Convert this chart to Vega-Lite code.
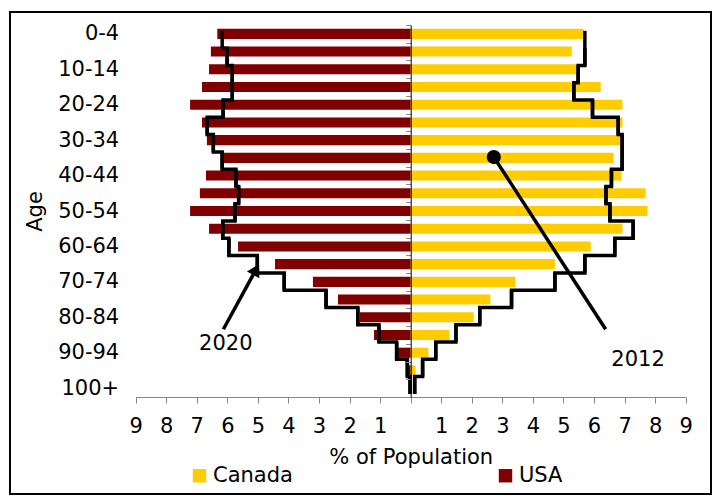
{
  "$schema": "https://vega.github.io/schema/vega-lite/v6.json",
  "width": 701,
  "height": 482,
  "autosize": "none",
  "padding": {"left": 10, "top": 12, "right": 3, "bottom": 4},
  "background": "white",
  "config": {
    "font": "DejaVu Sans",
    "view": {"stroke": "#000000", "strokeWidth": 2},
    "axis": {
      "labelFont": "DejaVu Sans",
      "titleFont": "DejaVu Sans",
      "labelFontSize": 21,
      "titleFontSize": 21,
      "titleFontWeight": "normal",
      "labelColor": "#000000",
      "titleColor": "#000000",
      "labelOverlap": false,
      "labelFlush": false,
      "grid": false
    },
    "legend": {
      "labelFont": "DejaVu Sans",
      "labelFontSize": 21,
      "labelColor": "#000000"
    }
  },
  "datasets": {
    "pop2012": [
      {"country": "USA", "age": "0-4", "pct": -6.33},
      {"country": "USA", "age": "5-9", "pct": -6.54},
      {"country": "USA", "age": "10-14", "pct": -6.60},
      {"country": "USA", "age": "15-19", "pct": -6.83},
      {"country": "USA", "age": "20-24", "pct": -7.22},
      {"country": "USA", "age": "25-29", "pct": -6.83},
      {"country": "USA", "age": "30-34", "pct": -6.67},
      {"country": "USA", "age": "35-39", "pct": -6.15},
      {"country": "USA", "age": "40-44", "pct": -6.70},
      {"country": "USA", "age": "45-49", "pct": -6.90},
      {"country": "USA", "age": "50-54", "pct": -7.22},
      {"country": "USA", "age": "55-59", "pct": -6.60},
      {"country": "USA", "age": "60-64", "pct": -5.65},
      {"country": "USA", "age": "65-69", "pct": -4.44},
      {"country": "USA", "age": "70-74", "pct": -3.20},
      {"country": "USA", "age": "75-79", "pct": -2.38},
      {"country": "USA", "age": "80-84", "pct": -1.66},
      {"country": "USA", "age": "85-89", "pct": -1.20},
      {"country": "USA", "age": "90-94", "pct": -0.45},
      {"country": "USA", "age": "95-99", "pct": -0.12},
      {"country": "USA", "age": "100+", "pct": -0.04},
      {"country": "Canada", "age": "0-4", "pct": 5.66},
      {"country": "Canada", "age": "5-9", "pct": 5.27},
      {"country": "Canada", "age": "10-14", "pct": 5.41},
      {"country": "Canada", "age": "15-19", "pct": 6.22},
      {"country": "Canada", "age": "20-24", "pct": 6.93},
      {"country": "Canada", "age": "25-29", "pct": 6.93},
      {"country": "Canada", "age": "30-34", "pct": 6.85},
      {"country": "Canada", "age": "35-39", "pct": 6.64},
      {"country": "Canada", "age": "40-44", "pct": 6.90},
      {"country": "Canada", "age": "45-49", "pct": 7.69},
      {"country": "Canada", "age": "50-54", "pct": 7.75},
      {"country": "Canada", "age": "55-59", "pct": 6.93},
      {"country": "Canada", "age": "60-64", "pct": 5.89},
      {"country": "Canada", "age": "65-69", "pct": 4.72},
      {"country": "Canada", "age": "70-74", "pct": 3.43},
      {"country": "Canada", "age": "75-79", "pct": 2.61},
      {"country": "Canada", "age": "80-84", "pct": 2.06},
      {"country": "Canada", "age": "85-89", "pct": 1.27},
      {"country": "Canada", "age": "90-94", "pct": 0.58},
      {"country": "Canada", "age": "95-99", "pct": 0.16},
      {"country": "Canada", "age": "100+", "pct": 0.02}
    ],
    "pop2020": [
      {"country": "USA", "age": "0-4", "lo": 0, "hi": 5, "pct": -6.17},
      {"country": "USA", "age": "5-9", "lo": 5, "hi": 10, "pct": -6.01},
      {"country": "USA", "age": "10-14", "lo": 10, "hi": 15, "pct": -5.84},
      {"country": "USA", "age": "15-19", "lo": 15, "hi": 20, "pct": -5.84},
      {"country": "USA", "age": "20-24", "lo": 20, "hi": 25, "pct": -6.14},
      {"country": "USA", "age": "25-29", "lo": 25, "hi": 30, "pct": -6.66},
      {"country": "USA", "age": "30-34", "lo": 30, "hi": 35, "pct": -6.46},
      {"country": "USA", "age": "35-39", "lo": 35, "hi": 40, "pct": -6.17},
      {"country": "USA", "age": "40-44", "lo": 40, "hi": 45, "pct": -5.72},
      {"country": "USA", "age": "45-49", "lo": 45, "hi": 50, "pct": -5.63},
      {"country": "USA", "age": "50-54", "lo": 50, "hi": 55, "pct": -5.75},
      {"country": "USA", "age": "55-59", "lo": 55, "hi": 60, "pct": -6.15},
      {"country": "USA", "age": "60-64", "lo": 60, "hi": 65, "pct": -5.95},
      {"country": "USA", "age": "65-69", "lo": 65, "hi": 70, "pct": -5.02},
      {"country": "USA", "age": "70-74", "lo": 70, "hi": 75, "pct": -4.14},
      {"country": "USA", "age": "75-79", "lo": 75, "hi": 80, "pct": -2.77},
      {"country": "USA", "age": "80-84", "lo": 80, "hi": 85, "pct": -1.73},
      {"country": "USA", "age": "85-89", "lo": 85, "hi": 90, "pct": -1.04},
      {"country": "USA", "age": "90-94", "lo": 90, "hi": 95, "pct": -0.46},
      {"country": "USA", "age": "95-99", "lo": 95, "hi": 100, "pct": -0.11},
      {"country": "USA", "age": "100+", "lo": 100, "hi": 105, "pct": -0.02},
      {"country": "Canada", "age": "0-4", "lo": 0, "hi": 5, "pct": 5.70},
      {"country": "Canada", "age": "5-9", "lo": 5, "hi": 10, "pct": 5.70},
      {"country": "Canada", "age": "10-14", "lo": 10, "hi": 15, "pct": 5.48},
      {"country": "Canada", "age": "15-19", "lo": 15, "hi": 20, "pct": 5.34},
      {"country": "Canada", "age": "20-24", "lo": 20, "hi": 25, "pct": 5.95},
      {"country": "Canada", "age": "25-29", "lo": 25, "hi": 30, "pct": 6.79},
      {"country": "Canada", "age": "30-34", "lo": 30, "hi": 35, "pct": 6.92},
      {"country": "Canada", "age": "35-39", "lo": 35, "hi": 40, "pct": 6.92},
      {"country": "Canada", "age": "40-44", "lo": 40, "hi": 45, "pct": 6.57},
      {"country": "Canada", "age": "45-49", "lo": 45, "hi": 50, "pct": 6.39},
      {"country": "Canada", "age": "50-54", "lo": 50, "hi": 55, "pct": 6.52},
      {"country": "Canada", "age": "55-59", "lo": 55, "hi": 60, "pct": 7.28},
      {"country": "Canada", "age": "60-64", "lo": 60, "hi": 65, "pct": 6.68},
      {"country": "Canada", "age": "65-69", "lo": 65, "hi": 70, "pct": 5.70},
      {"country": "Canada", "age": "70-74", "lo": 70, "hi": 75, "pct": 4.72},
      {"country": "Canada", "age": "75-79", "lo": 75, "hi": 80, "pct": 3.30},
      {"country": "Canada", "age": "80-84", "lo": 80, "hi": 85, "pct": 2.26},
      {"country": "Canada", "age": "85-89", "lo": 85, "hi": 90, "pct": 1.48},
      {"country": "Canada", "age": "90-94", "lo": 90, "hi": 95, "pct": 0.82},
      {"country": "Canada", "age": "95-99", "lo": 95, "hi": 100, "pct": 0.39},
      {"country": "Canada", "age": "100+", "lo": 100, "hi": 105, "pct": 0.13}
    ]
  },
  "layer": [
    {
      "data": {"name": "pop2012"},
      "mark": {"type": "bar", "height": {"band": 0.57}},
      "encoding": {
        "y": {
          "field": "age",
          "type": "ordinal",
          "scale": {
            "domain": ["0-4", "5-9", "10-14", "15-19", "20-24", "25-29", "30-34", "35-39", "40-44", "45-49", "50-54", "55-59", "60-64", "65-69", "70-74", "75-79", "80-84", "85-89", "90-94", "95-99", "100+"],
            "range": [13, 385],
            "paddingInner": 0,
            "paddingOuter": 0
          },
          "axis": {
            "orient": "left",
            "offset": -400.7,
            "tickBand": "extent",
            "domainColor": "#000000",
            "tickColor": "#868686",
            "tickSize": 5,
            "labelPadding": 287,
            "labelOverlap": false,
            "labelExpr": "indexof(['5-9','15-19','25-29','35-39','45-49','55-59','65-69','75-79','85-89','95-99'], datum.label) < 0 ? datum.label : ''",
            "title": "Age",
            "titleAngle": 270,
            "titleBaseline": "middle",
            "titleX": -375.7,
            "zindex": 1
          }
        },
        "x": {
          "field": "pct",
          "type": "quantitative",
          "stack": null,
          "scale": {"domain": [-9, 9], "range": [125.7, 675.7], "nice": false, "zero": false},
          "axis": {
            "orient": "bottom",
            "values": [-9, -8, -7, -6, -5, -4, -3, -2, -1, 0, 1, 2, 3, 4, 5, 6, 7, 8, 9],
            "tickCount": 40,
            "labelExpr": "datum.value === 0 ? '' : format(abs(datum.value), 'd')",
            "offset": -97,
            "domainColor": "#868686",
            "tickColor": "#868686",
            "tickSize": 6,
            "labelPadding": 12,
            "labelFlush": false,
            "labelOverlap": false,
            "title": "% of Population",
            "titlePadding": 10,
            "zindex": 1
          }
        },
        "color": {
          "field": "country",
          "type": "nominal",
          "scale": {"domain": ["Canada", "USA"], "range": ["#FFCC00", "#800000"]},
          "legend": {
            "title": null,
            "orient": "none",
            "legendX": 179,
            "legendY": 453,
            "direction": "horizontal",
            "symbolType": "square",
            "symbolSize": 180,
            "symbolStrokeWidth": 0,
            "symbolOpacity": 1,
            "labelOffset": 3,
            "columnPadding": 202
          }
        }
      }
    },
    {
      "layer": [
        {
          "data": {"name": "pop2020"},
          "mark": {"type": "rule", "color": "#000000", "strokeWidth": 3.5},
          "encoding": {
            "x": {"field": "pct", "type": "quantitative"},
            "y": {
              "field": "lo",
              "type": "quantitative",
              "scale": {"domain": [-1.7, 105.9], "range": [13, 385], "nice": false, "zero": false},
              "axis": null
            },
            "y2": {"field": "hi"}
          }
        },
        {
          "data": {"name": "pop2020"},
          "mark": {"type": "line", "interpolate": "step-after", "color": "#000000", "strokeWidth": 3.5},
          "encoding": {
            "x": {"field": "pct", "type": "quantitative"},
            "y": {"field": "hi", "type": "quantitative", "axis": null},
            "detail": {"field": "country"},
            "order": {"field": "hi"}
          }
        },
        {
          "data": {"values": [{}]},
          "mark": {"type": "rule", "color": "#000000", "strokeWidth": 3.5},
          "encoding": {
            "x": {"datum": 2.72, "type": "quantitative"},
            "x2": {"datum": 6.38},
            "y": {"datum": 36.5, "type": "quantitative", "axis": null},
            "y2": {"datum": 86.3}
          }
        },
        {
          "data": {"values": [{}]},
          "mark": {"type": "circle", "color": "#000000", "opacity": 1, "size": 200},
          "encoding": {
            "x": {"datum": 2.72, "type": "quantitative"},
            "y": {"datum": 36.5, "type": "quantitative", "axis": null}
          }
        },
        {
          "data": {"values": [{}]},
          "mark": {"type": "text", "text": "2012", "fontSize": 21, "color": "#000000", "align": "center", "baseline": "middle"},
          "encoding": {
            "x": {"datum": 7.44, "type": "quantitative"},
            "y": {"datum": 95.2, "type": "quantitative", "axis": null}
          }
        },
        {
          "data": {"values": [{}]},
          "mark": {"type": "rule", "color": "#000000", "strokeWidth": 3.5},
          "encoding": {
            "x": {"datum": -6.13, "type": "quantitative"},
            "x2": {"datum": -5.06},
            "y": {"datum": 86.3, "type": "quantitative", "axis": null},
            "y2": {"datum": 69.0}
          }
        },
        {
          "data": {"values": [{}]},
          "mark": {"type": "point", "shape": "triangle-up", "filled": true, "color": "#000000", "opacity": 1, "size": 200, "angle": 28.7},
          "encoding": {
            "x": {"datum": -5.06, "type": "quantitative"},
            "y": {"datum": 69.0, "type": "quantitative", "axis": null}
          }
        },
        {
          "data": {"values": [{}]},
          "mark": {"type": "text", "text": "2020", "fontSize": 21, "color": "#000000", "align": "center", "baseline": "middle"},
          "encoding": {
            "x": {"datum": -6.05, "type": "quantitative"},
            "y": {"datum": 90.6, "type": "quantitative", "axis": null}
          }
        }
      ]
    }
  ],
  "resolve": {"scale": {"y": "independent"}}
}
